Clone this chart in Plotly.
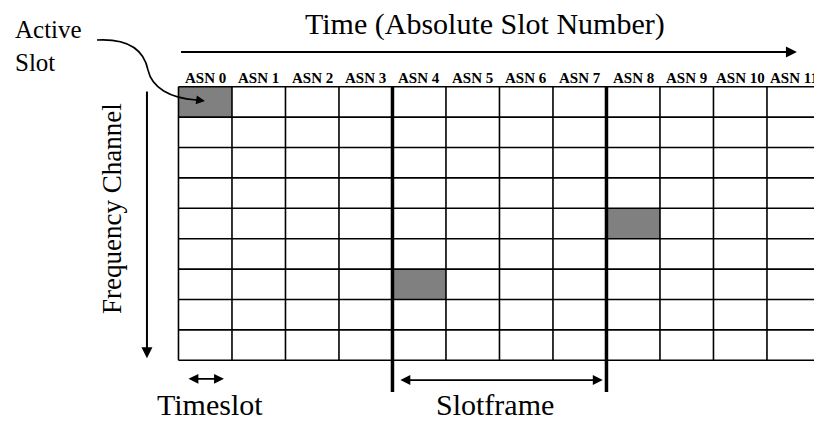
import plotly.graph_objects as go

# ---- data ----
slot_labels = ["ASN 0", "ASN 1", "ASN 2", "ASN 3", "ASN 4", "ASN 5",
               "ASN 6", "ASN 7", "ASN 8", "ASN 9", "ASN 10", "ASN 11"]
n_channels = 9
active_slots = [0, 4, 8]
active_channels = [0, 6, 4]
slotframe_length = 4
slotframe_bounds = [4, 8]

n_slots = len(slot_labels)
FONT = "Liberation Serif"

fig = go.Figure()

# invisible trace to establish axes
fig.add_trace(go.Scatter(x=[0, n_slots], y=[0, n_channels], mode="markers",
                         marker=dict(opacity=0), hoverinfo="skip", showlegend=False))

shapes = []
# active cells
for s, c in zip(active_slots, active_channels):
    shapes.append(dict(type="rect", xref="x", yref="y", x0=s, x1=s + 1, y0=c, y1=c + 1,
                       fillcolor="#808080", line=dict(width=0), layer="above"))
# grid lines
for i in range(n_slots + 1):
    shapes.append(dict(type="line", xref="x", yref="y", x0=i, x1=i, y0=0, y1=n_channels,
                       line=dict(color="black", width=1.6)))
for j in range(n_channels + 1):
    shapes.append(dict(type="line", xref="x", yref="y", x0=0, x1=n_slots, y0=j, y1=j,
                       line=dict(color="black", width=1.6)))
# slotframe boundaries (thick)
for b in slotframe_bounds:
    shapes.append(dict(type="line", xref="x", yref="y", x0=b, x1=b, y0=0, y1=10.04,
                       line=dict(color="black", width=3.5)))
# curved pointer for "Active Slot"
shapes.append(dict(type="path", xref="x", yref="y",
                   path="M -1.523,-1.536 C -0.813,-1.602 -0.626,-1.043 -0.570,-0.549 "
                        "C -0.495,0.043 -0.159,0.372 0.327,0.4375",
                   line=dict(color="black", width=1.6)))

annotations = []
# ASN labels
for i, lab in enumerate(slot_labels):
    annotations.append(dict(x=i + 0.5, y=-0.29, xref="x", yref="y", text=lab,
                            showarrow=False, font=dict(family=FONT, size=15, color="black", weight="bold"),
                            xanchor="center", yanchor="middle"))


def arrow(x0, y0, x1, y1, both=False, width=1.8):
    return dict(x=x1, y=y1, ax=x0, ay=y0, xref="x", yref="y", axref="x", ayref="y",
                text="", showarrow=True, arrowhead=2, arrowsize=1.1, arrowwidth=width,
                arrowcolor="black", arrowside="end+start" if both else "end",
                startarrowhead=2, startarrowsize=1.1)


# Time axis arrow
annotations.append(arrow(0.02, -1.14, 11.56, -1.14, width=2))
# Frequency arrow
annotations.append(arrow(-0.589, 0.11, -0.589, 8.93, width=2))
# Timeslot double arrow
annotations.append(arrow(0.159, 9.61, 0.85, 9.61, both=True))
# Slotframe double arrow
annotations.append(arrow(4.12, 9.65, 7.93, 9.65, both=True))
# pointer arrowhead
annotations.append(arrow(0.29, 0.421, 0.495, 0.47, width=1.6))

text_font = dict(family=FONT, size=30, color="black")
annotations += [
    dict(x=5.73, y=-2.06, xref="x", yref="y", text="Time (Absolute Slot Number)",
         showarrow=False, font=dict(family=FONT, size=30, color="black"),
         xanchor="center", yanchor="middle"),
    dict(x=-1.243, y=3.99, xref="x", yref="y", text="Frequency Channel", textangle=-90,
         showarrow=False, font=dict(family=FONT, size=27, color="black"),
         xanchor="center", yanchor="middle"),
    dict(x=0.589, y=10.44, xref="x", yref="y", text="Timeslot",
         showarrow=False, font=text_font, xanchor="center", yanchor="middle"),
    dict(x=5.92, y=10.44, xref="x", yref="y", text="Slotframe",
         showarrow=False, font=text_font, xanchor="center", yanchor="middle"),
    dict(x=-3.09, y=-1.33, xref="x", yref="y", text="Active<br>Slot", align="left",
         showarrow=False, font=dict(family=FONT, size=25, color="black"),
         xanchor="left", yanchor="middle"),
]

fig.update_layout(
    width=814, height=423, margin=dict(l=0, r=0, t=0, b=0),
    plot_bgcolor="white", paper_bgcolor="white",
    xaxis=dict(range=[-3.336, 11.879], visible=False, fixedrange=True),
    yaxis=dict(range=[11.063, -2.852], visible=False, fixedrange=True),
    shapes=shapes, annotations=annotations, showlegend=False,
)

fig.write_html("out.html", config={"displayModeBar": False},
               post_script="document.body.style.margin='0';")
